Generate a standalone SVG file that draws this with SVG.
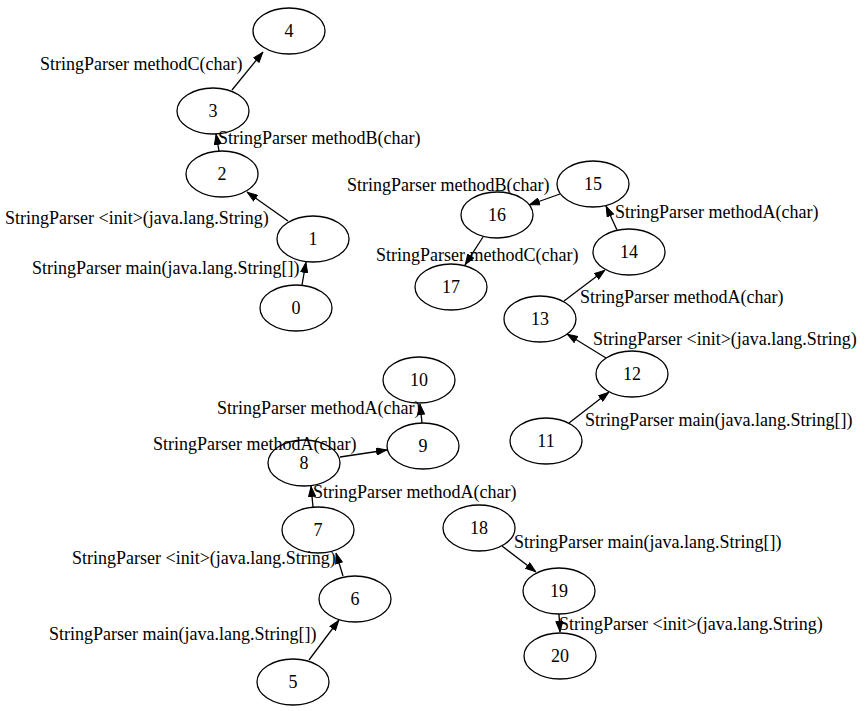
<svg xmlns="http://www.w3.org/2000/svg" width="868" height="711" viewBox="0 0 868 711">
<style>
.n ellipse{fill:none;stroke:#000;stroke-width:1.3}
.n text{font-family:"Liberation Serif","Times New Roman",serif;font-size:18px;text-anchor:middle;fill:#000}
.e line{stroke:#000;stroke-width:1.3;marker-end:url(#ah)}
.e text{font-family:"Liberation Serif","Times New Roman",serif;font-size:18px;fill:#000}
</style>
<defs>
<marker id="ah" markerUnits="userSpaceOnUse" viewBox="0 0 11 8" markerWidth="11" markerHeight="8" refX="11" refY="4" orient="auto">
<path d="M0.5,0.5 L10.5,4 L0.5,7.5 z" fill="#000" stroke="#000" stroke-width="1"/>
</marker>
</defs>
<rect width="868" height="711" fill="#fff"/>
<g id="node0" class="n"><ellipse cx="296" cy="308" rx="36" ry="23"/><text x="296" y="314">0</text></g>
<g id="node1" class="n"><ellipse cx="313" cy="239" rx="36" ry="23"/><text x="313" y="245">1</text></g>
<g id="node2" class="n"><ellipse cx="222" cy="174" rx="36" ry="23"/><text x="222" y="180">2</text></g>
<g id="node3" class="n"><ellipse cx="213" cy="111" rx="36" ry="23"/><text x="213" y="117">3</text></g>
<g id="node4" class="n"><ellipse cx="289" cy="31" rx="36" ry="23"/><text x="289" y="37">4</text></g>
<g id="node5" class="n"><ellipse cx="293" cy="682" rx="36" ry="23"/><text x="293" y="688">5</text></g>
<g id="node6" class="n"><ellipse cx="355" cy="599" rx="36" ry="23"/><text x="355" y="605">6</text></g>
<g id="node7" class="n"><ellipse cx="318" cy="530" rx="36" ry="23"/><text x="318" y="536">7</text></g>
<g id="node8" class="n"><ellipse cx="304" cy="463" rx="36" ry="23"/><text x="304" y="469">8</text></g>
<g id="node9" class="n"><ellipse cx="423" cy="446" rx="36" ry="23"/><text x="423" y="452">9</text></g>
<g id="node10" class="n"><ellipse cx="419" cy="380" rx="36" ry="23"/><text x="419" y="386">10</text></g>
<g id="node11" class="n"><ellipse cx="546" cy="441" rx="36" ry="23"/><text x="546" y="447">11</text></g>
<g id="node12" class="n"><ellipse cx="632" cy="374" rx="36" ry="23"/><text x="632" y="380">12</text></g>
<g id="node13" class="n"><ellipse cx="540" cy="319" rx="36" ry="23"/><text x="540" y="325">13</text></g>
<g id="node14" class="n"><ellipse cx="629" cy="252" rx="36" ry="23"/><text x="629" y="258">14</text></g>
<g id="node15" class="n"><ellipse cx="593" cy="184" rx="36" ry="23"/><text x="593" y="190">15</text></g>
<g id="node16" class="n"><ellipse cx="497" cy="215" rx="36" ry="23"/><text x="497" y="221">16</text></g>
<g id="node17" class="n"><ellipse cx="451" cy="287" rx="36" ry="23"/><text x="451" y="293">17</text></g>
<g id="node18" class="n"><ellipse cx="479" cy="528" rx="36" ry="23"/><text x="479" y="534">18</text></g>
<g id="node19" class="n"><ellipse cx="559" cy="591" rx="36" ry="23"/><text x="559" y="597">19</text></g>
<g id="node20" class="n"><ellipse cx="560" cy="656" rx="36" ry="23"/><text x="560" y="662">20</text></g>
<g id="connectors" class="e">
<line x1="302" y1="285" x2="306" y2="262"/>
<line x1="288" y1="221" x2="247" y2="192"/>
<line x1="219" y1="151" x2="216" y2="134"/>
<line x1="232" y1="90" x2="263" y2="52"/>
<line x1="560" y1="194" x2="529" y2="205"/>
<line x1="483" y1="237" x2="465" y2="265"/>
<line x1="617" y1="230" x2="606" y2="206"/>
<line x1="564" y1="301" x2="605" y2="270"/>
<line x1="606" y1="358" x2="567" y2="334"/>
<line x1="569" y1="423" x2="609" y2="392"/>
<line x1="422" y1="423" x2="420" y2="404"/>
<line x1="340" y1="457" x2="387" y2="450"/>
<line x1="313" y1="507" x2="311" y2="486"/>
<line x1="343" y1="576" x2="336" y2="553"/>
<line x1="309" y1="660" x2="339" y2="620"/>
<line x1="502" y1="546" x2="536" y2="572"/>
<line x1="559" y1="614" x2="560" y2="632"/>
<text x="40" y="70">StringParser methodC(char)</text>
<text x="218" y="144">StringParser methodB(char)</text>
<text x="5" y="224">StringParser &lt;init&gt;(java.lang.String)</text>
<text x="32" y="274">StringParser main(java.lang.String[])</text>
<text x="347" y="191">StringParser methodB(char)</text>
<text x="615" y="218">StringParser methodA(char)</text>
<text x="376" y="261">StringParser methodC(char)</text>
<text x="580" y="303">StringParser methodA(char)</text>
<text x="593" y="345">StringParser &lt;init&gt;(java.lang.String)</text>
<text x="585" y="426">StringParser main(java.lang.String[])</text>
<text x="217" y="414">StringParser methodA(char)</text>
<text x="153" y="450">StringParser methodA(char)</text>
<text x="313" y="498">StringParser methodA(char)</text>
<text x="72" y="564">StringParser &lt;init&gt;(java.lang.String)</text>
<text x="49" y="640">StringParser main(java.lang.String[])</text>
<text x="514" y="548">StringParser main(java.lang.String[])</text>
<text x="559" y="630">StringParser &lt;init&gt;(java.lang.String)</text>
</g>
</svg>
